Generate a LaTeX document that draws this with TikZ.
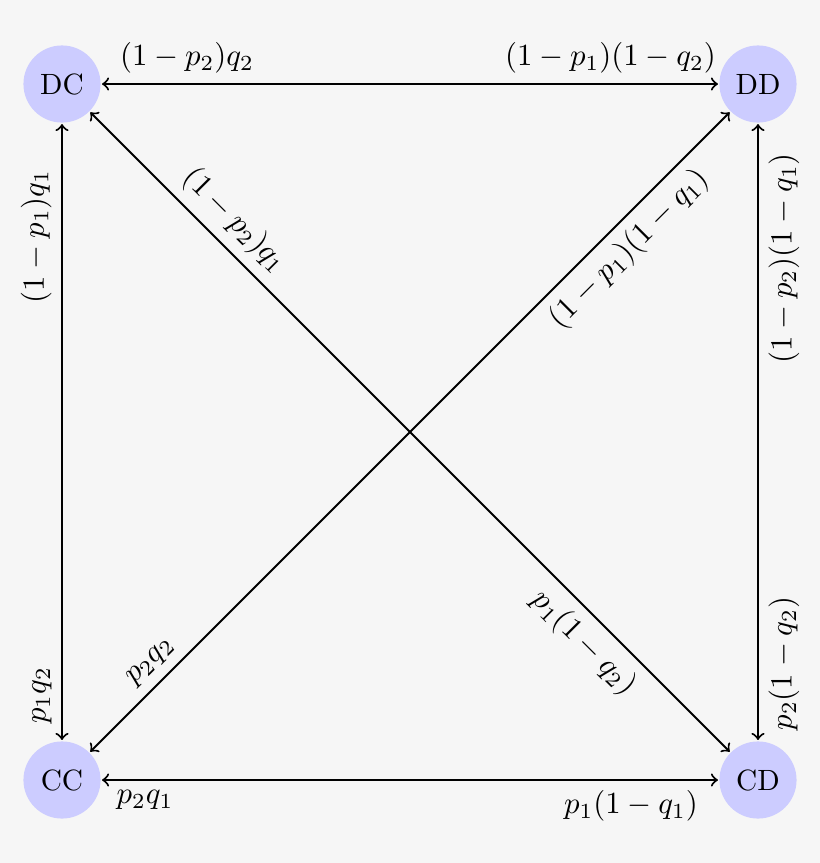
\documentclass[tikz,border=0pt]{standalone}
\usetikzlibrary{arrows}
\definecolor{bgc}{RGB}{246,246,246}
\definecolor{nodec}{RGB}{204,204,255}
\begin{document}
\begin{tikzpicture}[x=0.341pt,y=-0.341pt,
  state/.style={circle,fill=nodec,minimum size=26.3pt,inner sep=0pt,outer sep=0.5pt,font=\normalsize},
  arr/.style={<->,line width=0.7pt},
  lab/.style={inner sep=3.2pt,scale=1.05}]
\fill[bgc] (0,0) rectangle (820,863);
\useasboundingbox (0,0) rectangle (820,863);
\node[state] (DC) at (62,84) {DC};
\node[state] (DD) at (758,84) {DD};
\node[state] (CC) at (62,780) {CC};
\node[state] (CD) at (758,780) {CD};
\draw[arr] (DC) -- (DD);
\draw[arr] (DC) -- (CC);
\draw[arr] (CC) -- (CD);
\draw[arr] (DD) -- (CD);
\draw[arr] (DC) -- (CD);
\draw[arr] (CC) -- (DD);
% horizontal labels
\node[lab,anchor=south] (l1) at (187,84) {$(1-p_2)q_2$};
\node[lab,anchor=south] (l2) at (610.5,84) {$(1-p_1)(1-q_2)$};
\node[lab,anchor=north] (l7) at (145,780) {$p_2q_1$};
\node[lab,anchor=north] (l8) at (631,780) {$p_1(1-q_1)$};
% vertical labels
\node[lab,rotate=90,anchor=south] (l3) at (62,236.5) {$(1-p_1)q_1$};
\node[lab,rotate=90,anchor=south] (l4) at (62,695.5) {$p_1q_2$};
\node[lab,rotate=90,anchor=north] (l5) at (758,258.5) {$(1-p_2)(1-q_1)$};
\node[lab,rotate=90,anchor=north] (l6) at (758,663.5) {$p_2(1-q_2)$};
% diagonal labels
\node[lab,rotate=-45,anchor=south] (l9) at (216.25,238.75) {$(1-p_2)q_1$};
\node[lab,rotate=-45,anchor=north] (l10) at (602,624.5) {$p_1(1-q_2)$};
\node[lab,rotate=45,anchor=north] (l11) at (610.75,230.75) {$(1-p_1)(1-q_1)$};
\node[lab,rotate=45,anchor=south] (l12) at (165.25,676.25) {$p_2q_2$};
\end{tikzpicture}
\end{document}
